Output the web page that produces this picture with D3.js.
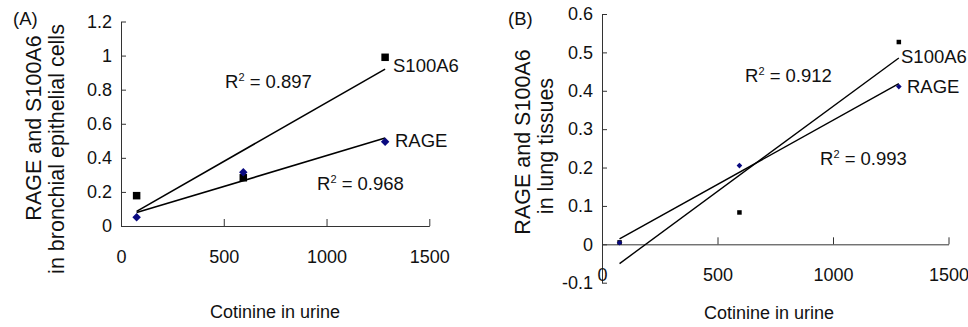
<!DOCTYPE html>
<html>
<head>
<meta charset="utf-8">
<script src="https://cdn.jsdelivr.net/npm/d3@7"></script>
<style>
  body { margin: 0; background: #fff; }
  svg, svg text { font-family: "Liberation Sans", Arial, sans-serif; }
  .axis text { font-size: 18px; fill: #111; font-family: "Liberation Sans", Arial, sans-serif; }
  .axis path, .axis line { stroke: #333; stroke-width: 1px; }
  .ttl { font-size: 21.5px; fill: #111; }
  .lbl { font-size: 18.5px; fill: #111; }
</style>
</head>
<body>
<div id="chart"></div>
<script>
// --- data ---
const cotinine = [76, 595, 1285];          // urine cotinine (x), shared by both panels
const rageA = [0.051, 0.315, 0.495];      // (A) bronchial epithelial cells
const s100a6A = [0.178, 0.283, 0.99];
const rageB = [0.004, 0.205, 0.411];      // (B) lung tissues
const s100a6B = [0.005, 0.083, 0.527];
const xTicks = [0, 500, 1000, 1500];
const yTicksA = [0, 0.2, 0.4, 0.6, 0.8, 1, 1.2];
const yTicksB = [-0.1, 0, 0.1, 0.2, 0.3, 0.4, 0.5, 0.6];
const r2A = { s100a6: "0.897", rage: "0.968" };
const r2B = { s100a6: "0.912", rage: "0.993" };

const W = 968, H = 327;
const svg = d3.select("#chart").append("svg").attr("width", W).attr("height", H);

// least squares fit, used for the trendlines
function fit(xs, ys) {
  const mx = d3.mean(xs), my = d3.mean(ys);
  const sxy = d3.sum(xs, (x, i) => (x - mx) * (ys[i] - my));
  const sxx = d3.sum(xs, x => (x - mx) * (x - mx));
  const b = sxy / sxx;
  return x => my + b * (x - mx);
}

function r2Label(g, x, y, val) {
  const t = g.append("text").attr("class", "lbl").attr("x", x).attr("y", y);
  t.append("tspan").text("R");
  t.append("tspan").attr("dy", -7).style("font-size", "11px").text("2");
  t.append("tspan").attr("dy", 7).text(" = " + val);
}

function panel(opt) {
  const g = svg.append("g");
  const x = d3.scaleLinear().domain([0, 1500]).range(opt.xRange);
  const y = d3.scaleLinear().domain(opt.yDomain).range(opt.yRange);

  // axes
  g.append("g").attr("class", "axis")
    .attr("transform", `translate(${opt.xRange[0]},0)`)
    .call(d3.axisLeft(y).tickValues(opt.yTicks).tickSize(-5).tickSizeOuter(0)
      .tickPadding(9).tickFormat(d => d3.format("~g")(d).replace("−", "-")));
  g.append("g").attr("class", "axis")
    .attr("transform", `translate(0,${y(0)})`)
    .call(d3.axisBottom(x).tickValues(xTicks).tickSize(-7).tickSizeOuter(0)
      .tickPadding(24).tickFormat(d3.format("d")));
  g.selectAll(".axis").attr("font-family", null).attr("font-size", null);

  // trendlines
  const line = d3.line().x(d => x(d[0])).y(d => y(d[1]));
  [opt.s100, opt.rage].forEach(vals => {
    const f = fit(cotinine, vals);
    const ext = d3.extent(cotinine);
    g.append("path")
      .attr("d", line(ext.map(v => [v, f(v)])))
      .attr("fill", "none").attr("stroke", "#000").attr("stroke-width", opt.lw);
  });

  // markers
  g.selectAll(".sq").data(cotinine).enter().append("rect")
    .attr("x", (d) => x(d) - opt.sq / 2)
    .attr("y", (d, i) => y(opt.s100[i]) - opt.sq / 2)
    .attr("width", opt.sq).attr("height", opt.sq).attr("fill", "#000");
  g.selectAll(".dm").data(cotinine).enter().append("path")
    .attr("transform", (d, i) => `translate(${x(d)},${y(opt.rage[i])}) rotate(45)`)
    .attr("d", d3.symbol(d3.symbolSquare, opt.dm)())
    .attr("fill", "#0a0a80");

  // titles
  g.append("text").attr("class", "lbl").attr("x", opt.tag[0]).attr("y", opt.tag[1]).text(opt.tagText);
  opt.yTitle.forEach(t => {
    g.append("text").attr("class", "ttl").attr("text-anchor", "middle")
      .attr("transform", `translate(${t.x},${t.y}) rotate(-90)`).text(t.text);
  });
  g.append("text").attr("class", "lbl").attr("text-anchor", "middle")
    .style("font-size", "18px")
    .attr("x", opt.xTitle[0]).attr("y", opt.xTitle[1]).text("Cotinine in urine");

  // annotations
  r2Label(g, opt.ann.r2s[0], opt.ann.r2s[1], opt.r2.s100a6);
  r2Label(g, opt.ann.r2r[0], opt.ann.r2r[1], opt.r2.rage);
  g.append("text").attr("class", "lbl").attr("x", opt.ann.s[0]).attr("y", opt.ann.s[1]).text("S100A6");
  g.append("text").attr("class", "lbl").attr("x", opt.ann.r[0]).attr("y", opt.ann.r[1]).text("RAGE");
}

panel({
  xRange: [121, 429.3], yDomain: [0, 1.2], yRange: [226, 21.5], yTicks: yTicksA,
  s100: s100a6A, rage: rageA, r2: r2A, lw: 1.6, sq: 7.5, dm: 36,
  tag: [13, 25], tagText: "(A)",
  yTitle: [{ x: 41, y: 128, text: "RAGE and S100A6" },
           { x: 64, y: 149, text: "in bronchial epithelial cells" }],
  xTitle: [275, 318],
  ann: { r2s: [225, 88], r2r: [317, 190], s: [393, 72], r: [395, 147] }
});

panel({
  xRange: [602, 948.5], yDomain: [-0.1, 0.6], yRange: [282.7, 14], yTicks: yTicksB,
  s100: s100a6B, rage: rageB, r2: r2B, lw: 1.4, sq: 4.5, dm: 16,
  tag: [508, 25], tagText: "(B)",
  yTitle: [{ x: 530, y: 142, text: "RAGE and S100A6" },
           { x: 553, y: 146, text: "in lung tissues" }],
  xTitle: [769, 319],
  ann: { r2s: [745, 82], r2r: [820, 165], s: [901, 63], r: [907, 93] }
});
</script>
</body>
</html>
